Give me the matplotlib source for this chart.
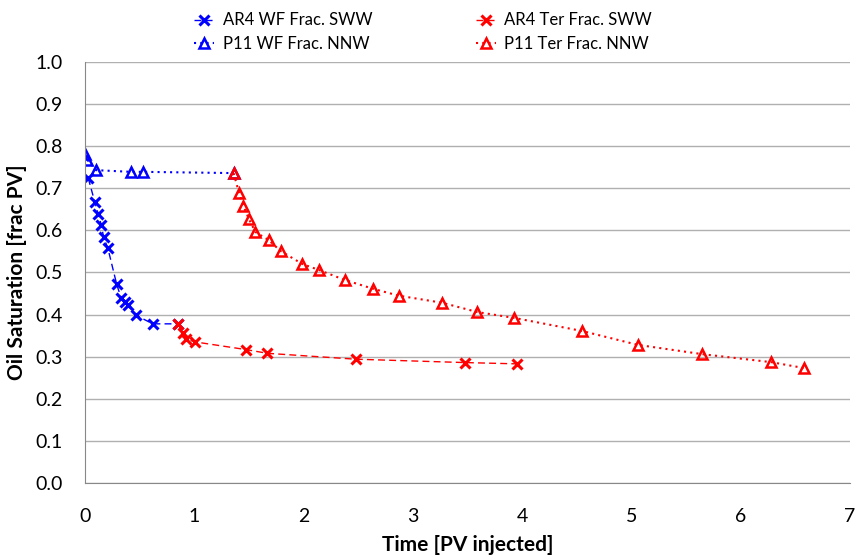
import matplotlib.pyplot as plt

plt.rcParams['font.family'] = ['Lato', 'DejaVu Sans']

# AR4 waterflood fraction, SWW
ar4_wf_t = [0.03, 0.09, 0.12, 0.15, 0.17, 0.21, 0.29, 0.33, 0.37, 0.39, 0.47, 0.62, 0.85]
ar4_wf_so = [0.724, 0.667, 0.640, 0.612, 0.584, 0.557, 0.472, 0.440, 0.430, 0.423, 0.398, 0.378, 0.378]

# AR4 tertiary fraction, SWW
ar4_ter_t = [0.85, 0.90, 0.92, 1.01, 1.47, 1.67, 2.48, 3.48, 3.95]
ar4_ter_so = [0.378, 0.356, 0.342, 0.335, 0.317, 0.308, 0.294, 0.286, 0.283]

# P11 waterflood fraction, NNW
p11_wf_t = [0.00, 0.02, 0.10, 0.42, 0.53, 1.36]
p11_wf_so = [0.781, 0.768, 0.743, 0.739, 0.739, 0.736]

# P11 tertiary fraction, NNW
p11_ter_t = [1.36, 1.41, 1.45, 1.50, 1.56, 1.68, 1.79, 1.99, 2.14, 2.38, 2.64, 2.87,
             3.27, 3.59, 3.93, 4.55, 5.06, 5.65, 6.28, 6.58]
p11_ter_so = [0.736, 0.689, 0.658, 0.627, 0.596, 0.577, 0.551, 0.520, 0.506, 0.482, 0.461, 0.445,
              0.428, 0.406, 0.392, 0.361, 0.328, 0.306, 0.287, 0.273]

fig = plt.figure(figsize=(8.55, 5.58), dpi=100)
ax = fig.add_axes([0.0994, 0.1344, 0.8946, 0.7546])

l1, = ax.plot(ar4_wf_t, ar4_wf_so, color='blue', linestyle=(0, (5, 3)), linewidth=1,
              marker='x', markersize=6.5, markeredgewidth=2.2, label='AR4 WF Frac. SWW')
l2, = ax.plot(ar4_ter_t, ar4_ter_so, color='red', linestyle=(0, (5, 3)), linewidth=1,
              marker='x', markersize=6.5, markeredgewidth=2.2, label='AR4 Ter Frac. SWW')
l3, = ax.plot(p11_wf_t, p11_wf_so, color='blue', linestyle=(0, (1, 2)), linewidth=1.5,
              marker='^', markersize=7.5, markerfacecolor='none', markeredgewidth=1.8,
              label='P11 WF Frac. NNW')
l4, = ax.plot(p11_ter_t, p11_ter_so, color='red', linestyle=(0, (1, 2)), linewidth=1.5,
              marker='^', markersize=7.5, markerfacecolor='none', markeredgewidth=1.8,
              label='P11 Ter Frac. NNW')

ax.set_xlim(0, 7)
ax.set_ylim(0, 1.0)
ax.set_xticks(range(0, 8))
ax.set_yticks([i / 10 for i in range(11)])
ax.set_yticklabels([f'{i / 10:.1f}' for i in range(11)])
ax.tick_params(axis='both', labelsize=14, length=0)
ax.tick_params(axis='x', pad=18)
ax.tick_params(axis='y', pad=16)
ax.grid(axis='y', color='#b0b0b0', linewidth=1)
ax.set_axisbelow(True)
for s in ['top', 'right']:
    ax.spines[s].set_visible(False)
for s in ['left', 'bottom']:
    ax.spines[s].set_color('#888888')

ax.set_xlabel('Time [PV injected]', fontsize=15, fontweight='bold', labelpad=7)
ax.set_ylabel('Oil Saturation [frac PV]', fontsize=15, fontweight='bold', labelpad=6)

ax.legend([l1, l3, l2, l4], [l.get_label() for l in (l1, l3, l2, l4)],
          loc='lower center', bbox_to_anchor=(0.442, 1.0), ncol=2, frameon=False,
          fontsize=12, handlelength=1.2, handletextpad=0.5, columnspacing=6.2,
          labelspacing=0.45, borderaxespad=0.2)

plt.savefig('out.png', dpi=100)
